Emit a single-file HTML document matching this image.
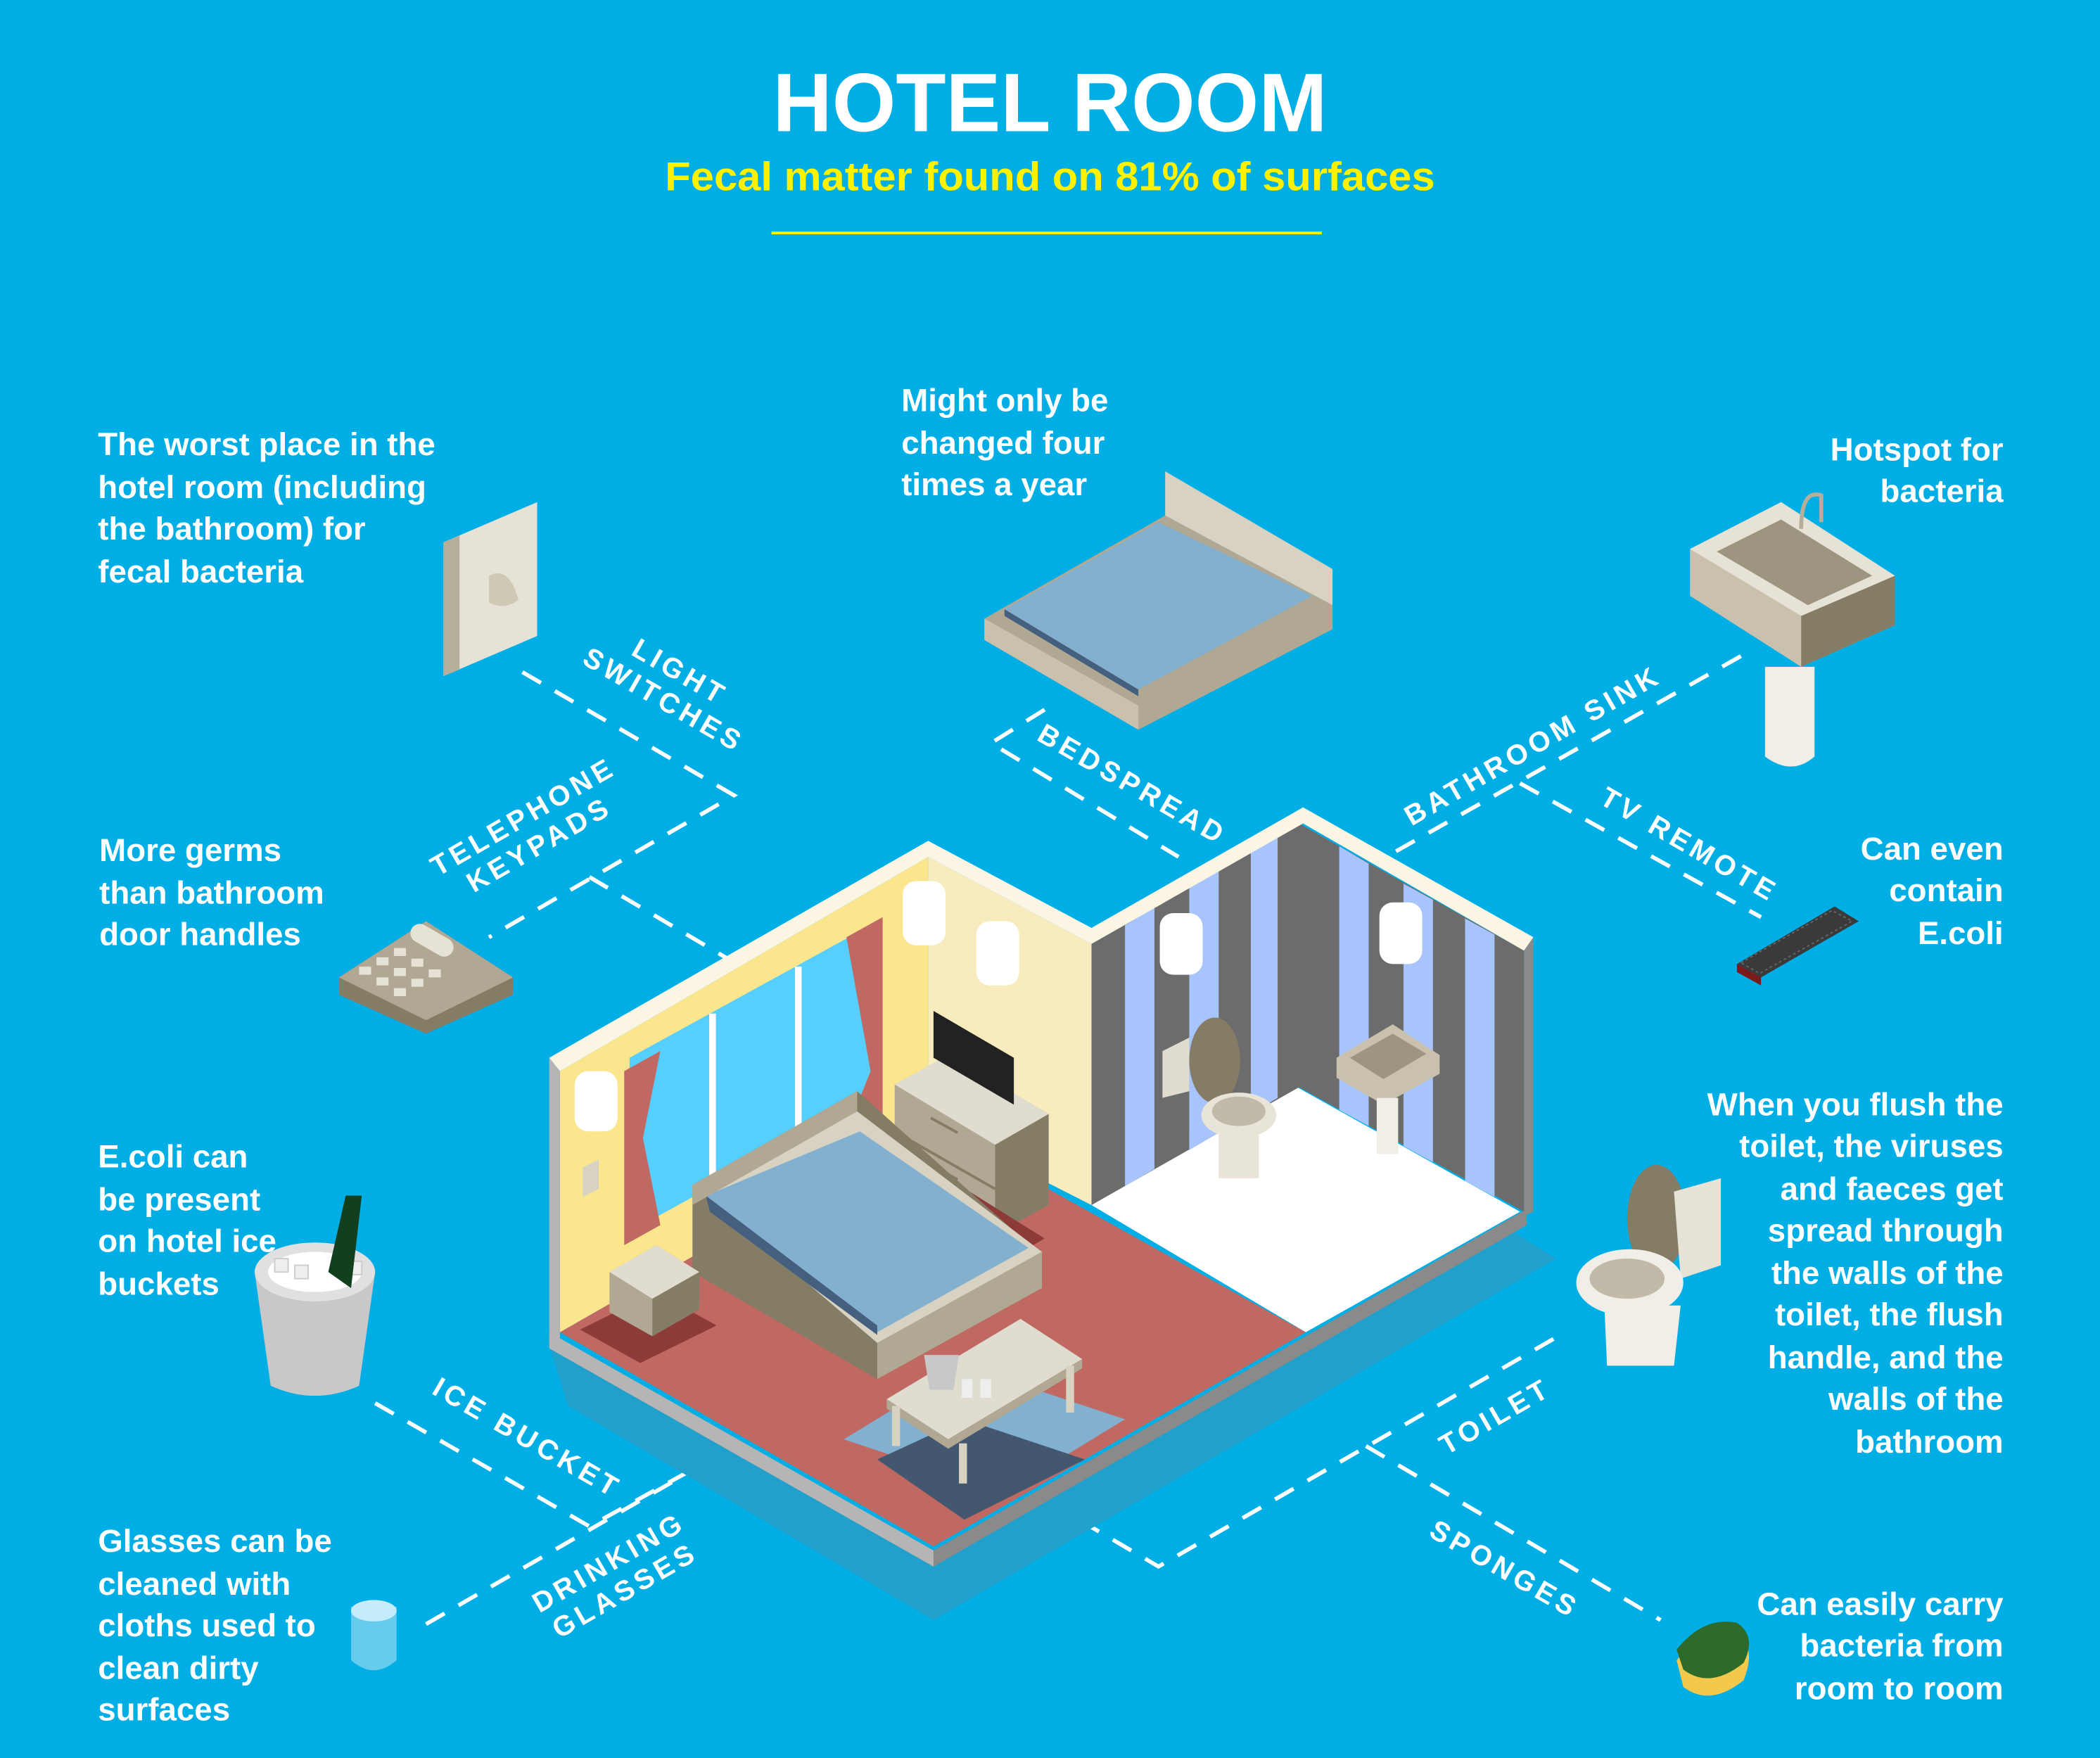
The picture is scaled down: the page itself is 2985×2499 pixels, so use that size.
<!DOCTYPE html>
<html><head><meta charset="utf-8"><style>
html,body{margin:0;padding:0;background:#00AEE6;}
svg{display:block}
text{font-family:"Liberation Sans",sans-serif;font-weight:bold;}
</style></head><body>
<svg width="2985" height="2499" viewBox="0 0 1568 1313" xmlns="http://www.w3.org/2000/svg">
<rect width="1568" height="1313" fill="#00AEE6"/>
<text x="784" y="98" text-anchor="middle" font-size="62" fill="#fff" textLength="414" lengthAdjust="spacingAndGlyphs">HOTEL ROOM</text>
<text x="784" y="142" text-anchor="middle" font-size="30" fill="#FFF200" textLength="575" lengthAdjust="spacingAndGlyphs">Fecal matter found on 81% of surfaces</text>
<line x1="576" y1="174" x2="987" y2="174" stroke="#FFF200" stroke-width="2"/>

<g font-size="24" fill="#fff">
<text x="73" y="340">The worst place in the</text><text x="73" y="372">hotel room (including</text><text x="73" y="403">the bathroom) for</text><text x="73" y="435">fecal bacteria</text>
<text x="673" y="307">Might only be</text><text x="673" y="339">changed four</text><text x="673" y="370">times a year</text>
<text x="1496" y="344" text-anchor="end">Hotspot for</text><text x="1496" y="375" text-anchor="end">bacteria</text>
<text x="74" y="643">More germs</text><text x="74" y="675">than bathroom</text><text x="74" y="706">door handles</text>
<text x="1496" y="642" text-anchor="end">Can even</text><text x="1496" y="673" text-anchor="end">contain</text><text x="1496" y="705" text-anchor="end">E.coli</text>
<text x="73" y="872">E.coli can</text><text x="73" y="904">be present</text><text x="73" y="935">on hotel ice</text><text x="73" y="967">buckets</text>
<g text-anchor="end"><text x="1496" y="833">When you flush the</text><text x="1496" y="864">toilet, the viruses</text><text x="1496" y="896">and faeces get</text><text x="1496" y="927">spread through</text><text x="1496" y="959">the walls of the</text><text x="1496" y="990">toilet, the flush</text><text x="1496" y="1022">handle, and the</text><text x="1496" y="1053">walls of the</text><text x="1496" y="1085">bathroom</text></g>
<text x="73" y="1159">Glasses can be</text><text x="73" y="1191">cleaned with</text><text x="73" y="1222">cloths used to</text><text x="73" y="1254">clean dirty</text><text x="73" y="1285">surfaces</text>
<g text-anchor="end"><text x="1496" y="1206">Can easily carry</text><text x="1496" y="1237">bacteria from</text><text x="1496" y="1269">room to room</text></g>
</g>

<g stroke="#fff" stroke-width="3" stroke-dasharray="16,12" fill="none">
<path d="M390 502 L548 594 L365 700"/>
<path d="M440 655 L545 717"/>
<path d="M780 530 L740 555 L880 640"/>
<path d="M1300 490 L1035 640"/>
<path d="M1135 585 L1315 685"/>
<path d="M280 1048 L440 1140 L545 1082"/>
<path d="M318 1213 L545 1082"/>
<path d="M1160 1000 L865 1170 L780 1120"/>
<path d="M1020 1080 L1240 1210"/>
</g>

<g font-size="21" fill="#fff" letter-spacing="3" text-anchor="middle">
<g transform="translate(500,515) rotate(30)"><text y="-8">LIGHT</text><text y="16">SWITCHES</text></g>
<g transform="translate(398,623) rotate(-30)"><text y="-8">TELEPHONE</text><text y="16">KEYPADS</text></g>
<text transform="translate(842,592) rotate(30)">BEDSPREAD</text>
<text transform="translate(1148,563) rotate(-30)">BATHROOM SINK</text>
<text transform="translate(1258,637) rotate(30)">TV REMOTE</text>
<text transform="translate(390,1080) rotate(30)">ICE BUCKET</text>
<g transform="translate(462,1180) rotate(-30)"><text y="-8">DRINKING</text><text y="16">GLASSES</text></g>
<text transform="translate(1120,1064) rotate(-30)">TOILET</text>
<text transform="translate(1120,1178) rotate(30)">SPONGES</text>
</g>

<polygon points="424,1050 697,1210 1162,940 1130,920 697,1170 410,1005" fill="#22A0CC"/>
<polygon points="410,995 697,1158 1140,903 1140,915 697,1170 410,1007" fill="#8A8A8A"/>
<polygon points="410,995 697,1158 697,1170 410,1007" fill="#B5B5B5"/>
<polygon points="418,995 693,838 975,995 697,1155" fill="#C06862"/>
<polygon points="815,900 965,810 1135,905 975,995" fill="#fff"/>
<polygon points="418,800 693,640 693,838 418,995" fill="#FBE68E"/>
<polygon points="693,640 815,705 815,900 693,838" fill="#F8ECBE"/>
<polygon points="470,790 652,690 652,820 470,920" fill="#56CFFF"/>
<g stroke="#fff" stroke-width="5"><line x1="532" y1="757" x2="532" y2="890"/><line x1="596" y1="722" x2="596" y2="855"/></g>
<polygon points="466,800 493,785 480,850 493,915 466,930" fill="#C06862"/>
<polygon points="632,700 659,685 659,870 645,880 632,845 650,800" fill="#C06862"/>
<polygon points="435,872 447,866 447,888 435,894" fill="#D8D2C2"/>
<polygon points="815,705 970,615 970,812 815,900" fill="#6C6C6C"/>
<polygon points="970,615 1138,710 1138,905 970,812" fill="#6C6C6C"/>
<g fill="#A8C4FC">
<polygon points="840,691 862,678 862,873 840,886"/>
<polygon points="888,663 910,650 910,846 888,859"/>
<polygon points="934,636 954,624 954,820 934,832"/>
<polygon points="1000,632 1022,645 1022,841 1000,829"/>
<polygon points="1048,660 1070,672 1070,868 1048,856"/>
<polygon points="1094,686 1116,698 1116,894 1094,882"/>
</g>
<polygon points="410,790 693,628 815,693 973,603 1145,700 1138,710 973,615 815,705 693,640 418,800" fill="#FBF6E4"/>
<polygon points="410,790 418,800 418,1000 410,995" fill="#B5B5B5"/>
<polygon points="1138,710 1145,700 1145,905 1138,908" fill="#8A8A8A"/>
<g fill="#fff"><rect x="429" y="800" width="32" height="45" rx="10"/><rect x="674" y="658" width="32" height="48" rx="10"/><rect x="729" y="688" width="32" height="48" rx="10"/><rect x="866" y="682" width="32" height="46" rx="10"/><rect x="1030" y="674" width="32" height="46" rx="10"/></g>
<polygon points="668,810 708,788 783,832 783,900 743,922 668,878" fill="#B0A892"/>
<polygon points="743,855 783,832 783,900 743,922" fill="#857C66"/>
<polygon points="668,810 708,788 783,832 743,855" fill="#E0DCD0"/>
<g stroke="#857C66" stroke-width="2"><line x1="668" y1="845" x2="743" y2="888"/><line x1="695" y1="835" x2="715" y2="846"/><line x1="695" y1="870" x2="715" y2="881"/></g>
<polygon points="697,755 757,790 757,825 697,790" fill="#222"/>
<polygon points="520,920 652,845 780,925 650,1000" fill="#8C3B38"/>
<polygon points="433,993 490,965 535,990 478,1018" fill="#8C3B38"/>
<polygon points="517,885 640,815 778,938 778,962 655,1030 517,950" fill="#857C66"/>
<polygon points="655,1003 778,935 778,962 655,1030" fill="#B0A892"/>
<polygon points="517,885 640,830 778,935 655,1003" fill="#D8D2C2"/>
<polygon points="527,893 642,845 768,932 655,995" fill="#84B0D0"/>
<polygon points="527,893 530,905 655,997 655,990" fill="#45607F"/>
<polygon points="517,885 640,815 640,830 517,900" fill="#B0A892"/>
<polygon points="455,950 490,930 522,950 522,978 487,998 455,980" fill="#B0A892"/>
<polygon points="487,970 522,950 522,978 487,998" fill="#857C66"/>
<polygon points="455,950 490,930 522,950 487,970" fill="#E0DCD0"/>
<polygon points="630,1075 720,1020 840,1060 750,1115" fill="#84B0D0"/>
<polygon points="655,1090 720,1060 810,1090 720,1135" fill="#43576F"/>
<polygon points="662,1045 762,985 808,1015 708,1075" fill="#E0DCD0"/>
<polygon points="662,1045 708,1075 808,1015 808,1022 708,1082 662,1052" fill="#B0A892"/>
<g fill="#D8D2C2"><rect x="666" y="1050" width="6" height="30"/><rect x="716" y="1078" width="6" height="30"/><rect x="796" y="1020" width="6" height="35"/></g>
<path d="M690 1012 L716 1012 L712 1038 L694 1038 Z" fill="#C8C8C8"/>
<rect x="718" y="1030" width="8" height="14" fill="#EEE"/><rect x="732" y="1030" width="8" height="14" fill="#EEE"/>
<ellipse cx="907" cy="792" rx="19" ry="32" fill="#857C66"/>
<polygon points="868,785 888,775 888,815 868,820" fill="#E0DCD0"/>
<ellipse cx="925" cy="833" rx="28" ry="17" fill="#E9E4D8"/>
<ellipse cx="925" cy="830" rx="20" ry="11" fill="#C2BAA8"/>
<rect x="910" y="845" width="30" height="35" fill="#E9E4D8"/>
<polygon points="998,790 1040,765 1075,788 1075,802 1033,825 998,805" fill="#C9C1AE"/>
<polygon points="1008,790 1040,772 1065,787 1033,806" fill="#9D9580"/>
<rect x="1028" y="820" width="16" height="42" fill="#F0EEE6"/>
<polygon points="331,405 401,375 401,475 331,505" fill="#E6E2D6"/>
<polygon points="331,405 343,400 343,500 331,505" fill="#B5AE9A"/>
<path d="M365 430 q15 -8 22 18 q-10 8 -22 2z" fill="#CFC8B4"/>
<polygon points="735,462 870,385 995,452 995,470 850,545 735,478" fill="#B0A892"/>
<polygon points="735,462 850,527 850,545 735,478" fill="#C9C1AE"/>
<polygon points="750,455 865,390 980,445 850,515" fill="#84B0D0"/>
<polygon points="750,455 850,515 850,520 750,460" fill="#45607F"/>
<polygon points="870,352 995,425 995,452 870,385" fill="#D8D2C2"/>
<polygon points="1262,410 1330,375 1415,430 1415,467 1345,498 1262,445" fill="#C9C1AE"/>
<polygon points="1345,460 1415,430 1415,467 1345,498" fill="#857C66"/>
<polygon points="1262,410 1330,375 1415,430 1345,460" fill="#E6E2D6"/>
<polygon points="1282,412 1330,388 1398,430 1350,452" fill="#9D9580"/>
<path d="M1318 498 L1355 498 L1355 565 Q1338 580 1318 565 Z" fill="#F0EEE6"/>
<path d="M1345 395 q0 -30 15 -25 l0 20" stroke="#B5AE9A" stroke-width="3" fill="none"/>
<polygon points="253,730 318,688 383,730 383,743 318,772 253,743" fill="#857C66"/>
<polygon points="253,730 318,688 383,730 318,762" fill="#B0A892"/>
<g fill="#E6E2D6">
<rect x="305" y="695" width="35" height="14" rx="7" transform="rotate(30 322 702)"/>
<rect x="268" y="722" width="9" height="6"/><rect x="281" y="715" width="9" height="6"/><rect x="294" y="708" width="9" height="6"/>
<rect x="281" y="730" width="9" height="6"/><rect x="294" y="723" width="9" height="6"/><rect x="307" y="716" width="9" height="6"/>
<rect x="294" y="738" width="9" height="6"/><rect x="307" y="731" width="9" height="6"/><rect x="320" y="724" width="9" height="6"/>
</g>
<polygon points="1297,720 1370,677 1388,688 1315,730" fill="#3A3A3A"/>
<polygon points="1300,719 1368,680 1383,688 1314,727" fill="none" stroke="#666" stroke-width="1" stroke-dasharray="2,2"/>
<polygon points="1297,720 1315,730 1315,736 1297,726" fill="#7A1A1A"/>
<path d="M190 950 L280 950 L268 1035 Q235 1050 202 1035 Z" fill="#C8C8C8"/>
<ellipse cx="235" cy="950" rx="45" ry="22" fill="#E0E0E0"/>
<ellipse cx="235" cy="950" rx="35" ry="15" fill="#fff"/>
<g fill="#EEE" stroke="#CCC"><rect x="205" y="940" width="10" height="10"/><rect x="220" y="945" width="10" height="10"/><rect x="260" y="942" width="10" height="10"/></g>
<path d="M245 950 L258 893 L270 893 L262 962 Z" fill="#123F1E"/>
<path d="M262 1200 L296 1200 L296 1240 Q279 1255 262 1240 Z" fill="#7FD3F0" opacity="0.8"/>
<ellipse cx="279" cy="1203" rx="17" ry="8" fill="#C5ECFA"/>
<ellipse cx="1237" cy="910" rx="22" ry="40" fill="#857C66"/>
<polygon points="1250,890 1285,880 1285,945 1255,955" fill="#E6E2D6"/>
<ellipse cx="1217" cy="958" rx="40" ry="25" fill="#F0EEE6"/>
<ellipse cx="1215" cy="955" rx="28" ry="15" fill="#C2BAA8"/>
<path d="M1198 975 L1255 975 L1250 1020 L1200 1020 Z" fill="#F0EEE6"/>
<path d="M1252 1240 q20 -25 45 -20 q15 10 5 35 q-25 20 -45 5z" fill="#F2C94C"/>
<path d="M1252 1232 q20 -25 45 -20 q15 10 5 30 q-25 20 -45 5z" fill="#2E6A2A"/>
</svg>
</body></html>
